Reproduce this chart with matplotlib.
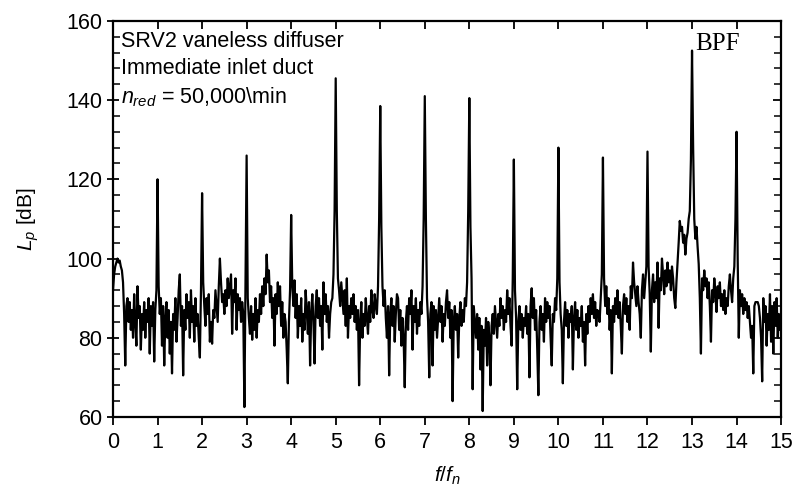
#!/usr/bin/env python3

import numpy as np
import matplotlib
matplotlib.use('Agg')
import matplotlib.pyplot as plt
from matplotlib.ticker import MultipleLocator

# spectrum levels (dB), one row per harmonic interval [k, k+1), sampled every 0.025 f/fn
step = 0.025
unit_levels = [
    [92, 96, 98, 99, 100, 99, 99.5, 98, 97, 94, 86, 73, 88, 90, 84, 89, 82, 87, 80, 91,
     84, 78, 93, 85, 88, 77, 86, 82, 89, 80, 87, 84, 90, 76, 88, 83, 89, 74, 87, 92],
    [120, 93, 86, 90, 78, 88, 73, 85, 89, 80, 87, 76, 84, 71, 86, 82, 90, 79, 85, 92,
     96, 83, 88, 70.5, 87, 82, 91, 85, 89, 80, 92, 84, 88, 79, 90, 83, 86, 80, 75, 92],
    [116.5, 94, 88, 83, 90, 86, 91, 79, 84, 78.5, 87, 85, 92, 88, 84, 93, 100, 94, 89, 91,
     86, 92, 88, 95, 90, 93, 96, 81, 92, 89, 95, 82, 91, 87, 90, 84, 89, 86, 62.5, 93],
    [126, 90, 85, 81, 88, 79.5, 86, 82, 90, 80, 87, 84, 91, 86, 93, 88, 95, 91, 101, 94,
     97, 89, 93, 85, 90, 78, 91, 86, 94, 88, 93, 83, 89, 80, 86, 84, 77, 68.5, 84, 92],
    [111, 93, 88, 94.5, 85, 91, 80, 88, 83, 90, 79, 86, 82, 92, 87, 81, 89, 73, 86, 91,
     84, 73.5, 88, 92, 85, 90, 83, 88, 77, 94, 86, 91, 84, 88, 80, 86, 89, 90, 96, 112],
    [145.5, 112, 95, 92, 88, 94, 90, 86, 92, 83, 95, 80, 88, 85, 90, 86, 91, 84, 88, 82,
     87, 68, 84, 89, 80, 86, 83, 90, 85, 81, 88, 84, 92, 87, 85, 91, 88, 86, 93, 110],
    [138.5, 108, 93, 88, 92, 85, 80, 88, 70.5, 86, 90, 83, 88, 79, 86, 91, 90, 82, 87, 78,
     85, 80, 67.5, 84, 88, 82, 90, 86, 92, 77, 88, 84, 90, 81, 87, 83, 89, 86, 93, 110],
    [141, 110, 90, 84, 70, 86, 89, 73, 88, 82, 87, 80, 85, 90, 84, 88, 79, 86, 83, 89,
     92, 85, 89, 80, 87, 64, 84, 88, 82, 86, 75, 85, 89, 83, 87, 84, 90, 88, 94, 112],
    [140.5, 108, 95, 67, 88, 84, 80, 86, 77, 85, 72, 83, 61.5, 82, 78, 85, 73, 84, 80, 68,
     83, 86, 81, 88, 84, 80, 86, 83, 90, 85, 88, 82, 87, 84, 92, 86, 90, 83, 78, 95],
    [125, 92, 85, 67, 84, 88, 82, 86, 80, 85, 83, 88, 81, 86, 70, 88, 92.5, 85, 90, 82,
     87, 77, 65.5, 84, 88, 82, 86, 79, 90, 84, 89, 85, 88, 80, 73, 86, 84, 90, 87, 95],
    [128, 94, 86, 82, 68.5, 84, 89, 83, 87, 80, 86, 84, 88, 72, 85, 89, 82, 87, 80, 85,
     83, 88, 79, 84, 73, 86, 81, 88, 84, 90, 86, 91, 85, 89, 83, 87, 86, 84, 90, 96],
    [125.5, 95, 88, 93, 86, 90, 82, 87, 71, 88, 84, 90, 86, 92, 85, 89, 83, 76, 88, 91,
     86, 90, 84, 88, 82, 93, 90, 99, 94, 91, 88, 93, 89, 86, 80, 92, 96, 90, 94, 98],
    [127, 98, 91, 76.5, 92, 96, 89, 94, 90, 99, 82.5, 95, 92, 100, 96, 91, 97, 93, 99, 94,
     97, 92, 98, 95, 90, 87.5, 94, 99, 104, 109.5, 107, 108, 104, 106, 101, 105, 106.5, 110, 112, 125],
    [152.5, 128, 110, 105, 108, 103, 98.6, 90, 76, 95, 92, 97, 93, 95, 90, 94, 88, 79, 92, 89,
     95, 91, 86.5, 93, 90, 94, 88, 91, 87, 92, 86, 90, 88, 93, 96, 92, 89, 95, 98, 110],
    [132, 100, 80, 92, 88, 91, 86, 90, 87, 89, 85, 88, 84, 80, 83, 71, 88, 89, 89, 89,
     88, 85, 80, 69, 90, 84, 88, 78, 86, 82, 91, 79, 88, 76, 89, 83, 90, 80, 86, 82, 84],
]

text_lines = ['SRV2 vaneless diffuser', 'Immediate inlet duct', '$n_{red}$ = 50,000\\min']
x_ticks = list(range(0, 16))
y_ticks = [60, 80, 100, 120, 140, 160]

plt.rcParams['font.family'] = ['Liberation Sans', 'DejaVu Sans']
plt.rcParams['mathtext.fontset'] = 'custom'
plt.rcParams['mathtext.rm'] = 'Liberation Sans'
plt.rcParams['mathtext.it'] = 'Liberation Sans:italic'

freq = []
level = []
for k, row in enumerate(unit_levels):
    freq.extend(k + np.arange(len(row)) * step)
    level.extend(row)

fig = plt.figure(figsize=(7.93, 4.97), dpi=100)
ax = fig.add_axes([0.1425, 0.161, 0.8425, 0.797])
ax.plot(freq, level, color='black', lw=1.6)

ax.set_xlim(0, 15)
ax.set_ylim(60, 160)
ax.set_xticks(x_ticks)
ax.set_yticks(y_ticks)
ax.yaxis.set_minor_locator(MultipleLocator(4))
ax.tick_params(axis='both', labelsize=15.5)
ax.tick_params(axis='x', which='major', direction='out', length=6, width=1.3, top=True, pad=5)
ax.tick_params(axis='y', which='major', direction='inout', length=9, width=1.3, right=True, pad=3)
ax.tick_params(axis='y', which='minor', direction='in', length=5, width=1.1, right=True)
for t in ax.xaxis.get_major_ticks():
    t.tick2line.set_marker(3)  # top ticks point down into the plot
for t in ax.yaxis.get_major_ticks():
    t.tick2line.set_marker(0)
    t.tick2line.set_markersize(6)
for side in ax.spines.values():
    side.set_linewidth(1.6)

ax.set_xlabel('$f/f_n$', fontsize=15, labelpad=8)
ax.set_ylabel('$L_p$ [dB]', fontsize=15, labelpad=18)

for i, line in enumerate(text_lines):
    ax.text(0.012, 0.975 - i * 0.069, line, transform=ax.transAxes, fontsize=15.5,
            ha='left', va='top')
ax.text(0.871, 0.97, 'BPF', transform=ax.transAxes, fontsize=18,
        family='Liberation Serif', ha='left', va='top')

plt.savefig('out.png', dpi=100)
plt.close()
